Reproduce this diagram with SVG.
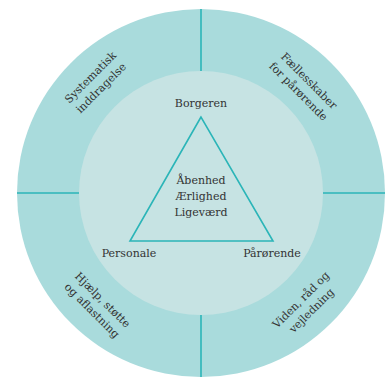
<svg xmlns="http://www.w3.org/2000/svg" width="391" height="380" viewBox="0 0 391 380">
<style>
.t{font-family:"DejaVu Serif","Liberation Serif",serif;font-size:11px;fill:#333;text-anchor:middle}
.ln{stroke:#2bb5b8;stroke-width:1.6;fill:none}
</style>
<rect width="391" height="380" fill="#fff"/>
<g id="outer-ring"><circle cx="201" cy="193" r="184" fill="#a9dbdc"/></g>
<g id="inner-circle"><circle cx="201" cy="193" r="122" fill="#c6e3e3"/></g>
<g id="connectors">
<line class="ln" x1="201" y1="9" x2="201" y2="71"/>
<line class="ln" x1="201" y1="315" x2="201" y2="377"/>
<line class="ln" x1="17" y1="193" x2="79" y2="193"/>
<line class="ln" x1="323" y1="193" x2="385" y2="193"/>
<polygon class="ln" points="201,117 130,241 273,241"/>
</g>
<g id="seg-systematisk"><text class="t" transform="translate(95.5,82.5) rotate(-45)"><tspan x="0" y="-3.5">Systematisk</tspan><tspan x="0" y="11.5">inddragelse</tspan></text></g>
<g id="seg-faellesskaber"><text class="t" transform="translate(304,86) rotate(45)"><tspan x="0" y="-3.5">Fællesskaber</tspan><tspan x="0" y="11.5">for pårørende</tspan></text></g>
<g id="seg-hjaelp"><text class="t" transform="translate(97.5,305) rotate(45)"><tspan x="0" y="-3.5">Hjælp, støtte</tspan><tspan x="0" y="11.5">og aflastning</tspan></text></g>
<g id="seg-viden"><text class="t" transform="translate(306,305) rotate(-45)"><tspan x="0" y="-3.5">Viden, råd og</tspan><tspan x="0" y="11.5">vejledning</tspan></text></g>
<g id="borgeren"><text class="t" x="201" y="107">Borgeren</text></g>
<g id="personale"><text class="t" x="129" y="257">Personale</text></g>
<g id="paaroerende"><text class="t" x="272" y="257">Pårørende</text></g>
<g id="center-values"><text class="t" x="201" y="184">Åbenhed</text><text class="t" x="201" y="200">Ærlighed</text><text class="t" x="201" y="216">Ligeværd</text></g>
</svg>
